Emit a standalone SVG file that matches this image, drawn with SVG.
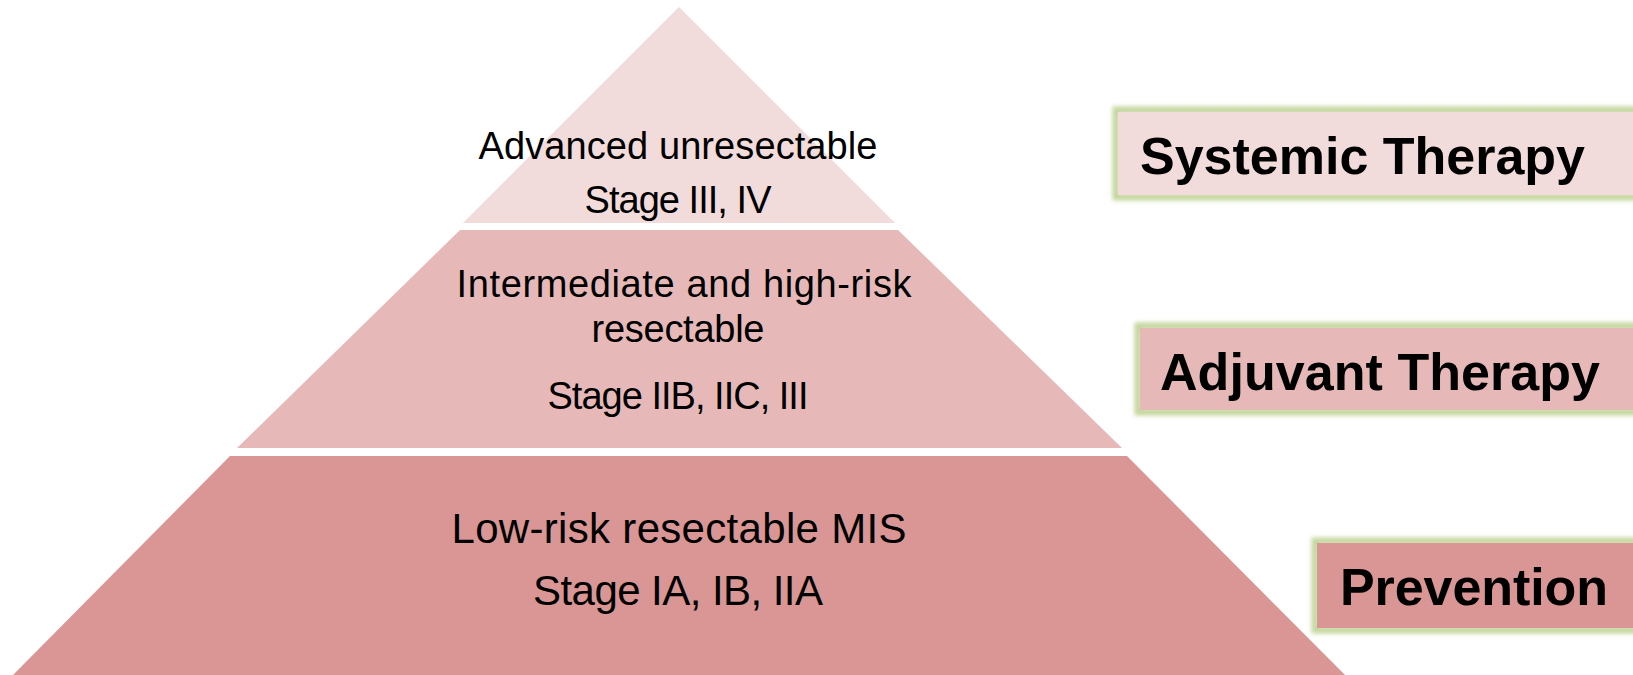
<svg xmlns="http://www.w3.org/2000/svg" width="1633" height="675" viewBox="0 0 1633 675">
<defs>
<filter id="glow" x="-10%" y="-30%" width="120%" height="160%"><feGaussianBlur stdDeviation="2"/></filter>
</defs>
<style>
.tier{font-family:"Liberation Sans",Arial,sans-serif;fill:#000;text-anchor:middle}
.lbl{font-family:"Liberation Sans",Arial,sans-serif;font-weight:bold;font-size:52px;fill:#000}
.halo{fill:none;stroke:#C3D69B;stroke-width:7;filter:url(#glow)}
</style>
<rect width="1633" height="675" fill="#fff"/>
<g id="tier-top">
<polygon points="679,7 895,223 463,223" fill="#F2DCDB"/>
<text class="tier" x="678" y="159" font-size="38" textLength="399">Advanced unresectable</text>
<text class="tier" x="678" y="213" font-size="38" textLength="187">Stage III, IV</text>
</g>
<g id="tier-middle">
<polygon points="460,230 898,230 1122,448 237,448" fill="#E6B9B8"/>
<text class="tier" x="684" y="297" font-size="38" textLength="455">Intermediate and high-risk</text>
<text class="tier" x="678" y="342" font-size="38" textLength="173">resectable</text>
<text class="tier" x="678" y="409" font-size="38" textLength="261">Stage IIB, IIC, III</text>
</g>
<g id="tier-bottom">
<polygon points="230,456 1127,456 1346,676 12,676" fill="#D99694"/>
<text class="tier" x="679" y="543" font-size="42" textLength="455">Low-risk resectable MIS</text>
<text class="tier" x="678" y="605" font-size="42" textLength="290">Stage IA, IB, IIA</text>
</g>
<g id="label-systemic">
<rect class="halo" x="1116" y="110" width="540" height="87"/>
<rect x="1118" y="112" width="540" height="83" fill="#F2DCDB"/>
<text class="lbl" x="1140" y="174" textLength="445">Systemic Therapy</text>
</g>
<g id="label-adjuvant">
<rect class="halo" x="1138" y="326" width="520" height="86"/>
<rect x="1140" y="328" width="520" height="82" fill="#E6B9B8"/>
<text class="lbl" x="1160" y="390" textLength="440">Adjuvant Therapy</text>
</g>
<g id="label-prevention">
<rect class="halo" x="1315" y="541" width="340" height="89"/>
<rect x="1317" y="543" width="340" height="85" fill="#D99694"/>
<text class="lbl" x="1340" y="605" textLength="268">Prevention</text>
</g>
<g id="connectors"/>
</svg>
